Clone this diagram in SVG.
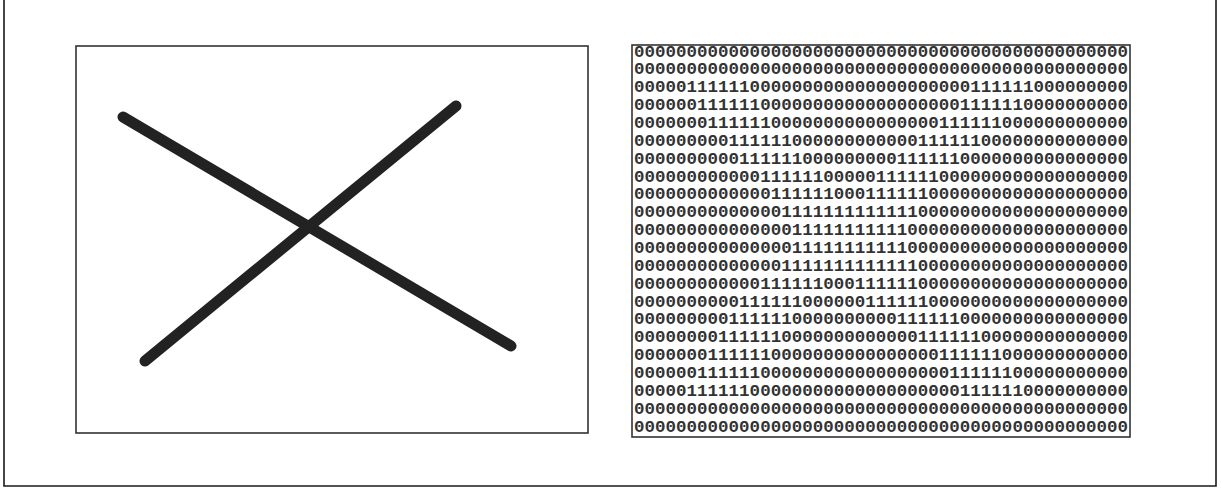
<svg xmlns="http://www.w3.org/2000/svg" width="1221" height="490" viewBox="0 0 1221 490">
<style>
.frame{fill:none;stroke:#1a1a1a;stroke-width:1.6}
.panel{fill:#ffffff;stroke:#333333;stroke-width:1.6}
.stroke{stroke:#222222;stroke-width:11;stroke-linecap:round;fill:none}
.bits{font-family:"Liberation Mono","DejaVu Sans Mono",monospace;font-size:17px;font-weight:bold;fill:#333333}
</style>
<rect x="0" y="0" width="1221" height="490" fill="#ffffff"/>
<g id="frame">
<path class="frame" d="M4,0 V486 H1216 V0"/>
</g>
<g id="left-panel">
<rect class="panel" x="76" y="46" width="512" height="387"/>
<line class="stroke" x1="123" y1="117" x2="511" y2="346"/>
<line class="stroke" x1="145" y1="361" x2="456" y2="106"/>
</g>
<g id="right-panel">
<rect class="panel" x="632" y="45" width="498" height="392"/>
<g class="bits">
<text x="634" y="56.5" textLength="494" lengthAdjust="spacingAndGlyphs">00000000000000000000000000000000000000000000000</text>
<text x="634" y="74.4" textLength="494" lengthAdjust="spacingAndGlyphs">00000000000000000000000000000000000000000000000</text>
<text x="634" y="92.2" textLength="494" lengthAdjust="spacingAndGlyphs">00000111111000000000000000000000111111000000000</text>
<text x="634" y="110.1" textLength="494" lengthAdjust="spacingAndGlyphs">00000011111100000000000000000001111110000000000</text>
<text x="634" y="127.9" textLength="494" lengthAdjust="spacingAndGlyphs">00000001111110000000000000000111111000000000000</text>
<text x="634" y="145.8" textLength="494" lengthAdjust="spacingAndGlyphs">00000000011111100000000000011111100000000000000</text>
<text x="634" y="163.7" textLength="494" lengthAdjust="spacingAndGlyphs">00000000001111110000000001111110000000000000000</text>
<text x="634" y="181.5" textLength="494" lengthAdjust="spacingAndGlyphs">00000000000011111100000111111000000000000000000</text>
<text x="634" y="199.4" textLength="494" lengthAdjust="spacingAndGlyphs">00000000000001111110001111110000000000000000000</text>
<text x="634" y="217.2" textLength="494" lengthAdjust="spacingAndGlyphs">00000000000000111111111111100000000000000000000</text>
<text x="634" y="235.1" textLength="494" lengthAdjust="spacingAndGlyphs">00000000000000011111111111000000000000000000000</text>
<text x="634" y="253.0" textLength="494" lengthAdjust="spacingAndGlyphs">00000000000000011111111111000000000000000000000</text>
<text x="634" y="270.8" textLength="494" lengthAdjust="spacingAndGlyphs">00000000000000111111111111100000000000000000000</text>
<text x="634" y="288.7" textLength="494" lengthAdjust="spacingAndGlyphs">00000000000011111100011111100000000000000000000</text>
<text x="634" y="306.5" textLength="494" lengthAdjust="spacingAndGlyphs">00000000001111110000001111110000000000000000000</text>
<text x="634" y="324.4" textLength="494" lengthAdjust="spacingAndGlyphs">00000000011111100000000001111110000000000000000</text>
<text x="634" y="342.3" textLength="494" lengthAdjust="spacingAndGlyphs">00000000111111000000000000011111100000000000000</text>
<text x="634" y="360.1" textLength="494" lengthAdjust="spacingAndGlyphs">00000001111110000000000000000111111000000000000</text>
<text x="634" y="378.0" textLength="494" lengthAdjust="spacingAndGlyphs">00000011111100000000000000000011111100000000000</text>
<text x="634" y="395.8" textLength="494" lengthAdjust="spacingAndGlyphs">00000111111000000000000000000001111110000000000</text>
<text x="634" y="413.7" textLength="494" lengthAdjust="spacingAndGlyphs">00000000000000000000000000000000000000000000000</text>
<text x="634" y="431.5" textLength="494" lengthAdjust="spacingAndGlyphs">00000000000000000000000000000000000000000000000</text>
</g>
</g>
</svg>
